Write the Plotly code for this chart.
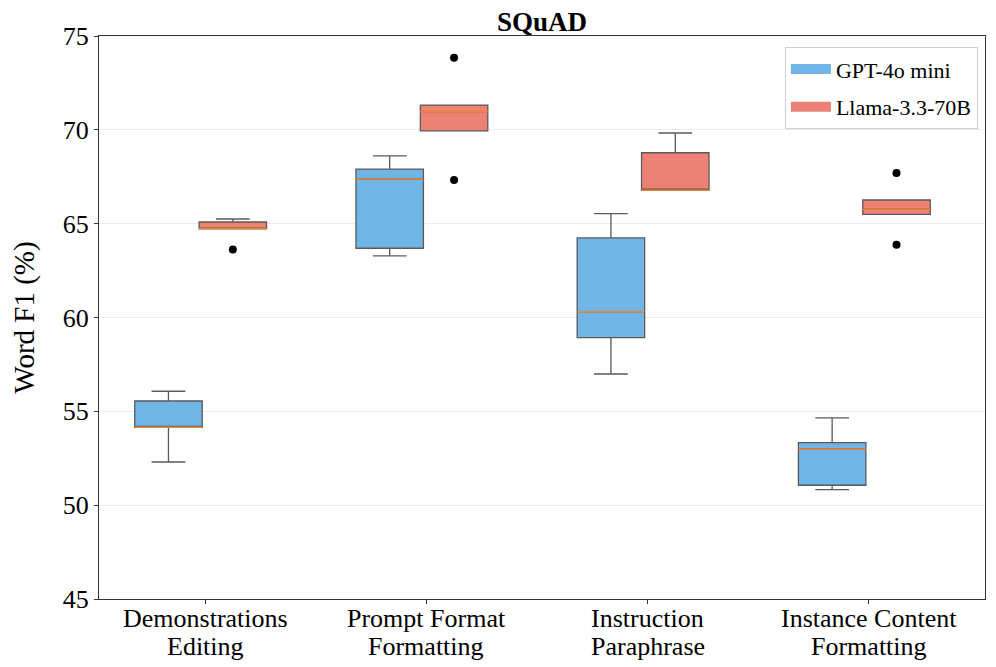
import plotly.graph_objects as go

categories = ["Demonstrations<br>Editing", "Prompt Format<br>Formatting",
              "Instruction<br>Paraphrase", "Instance Content<br>Formatting"]

# GPT-4o mini box statistics
gpt_lower = [52.30, 63.28, 56.99, 50.83]
gpt_q1 = [54.15, 63.69, 58.93, 51.06]
gpt_median = [54.15, 67.38, 60.31, 52.98]
gpt_q3 = [55.55, 67.91, 64.24, 53.33]
gpt_upper = [56.07, 68.61, 65.53, 54.65]

# Llama-3.3-70B box statistics
llama_lower = [64.72, 69.94, 66.78, 65.50]
llama_q1 = [64.72, 69.94, 66.78, 65.50]
llama_median = [64.75, 70.97, 66.78, 65.77]
llama_q3 = [65.09, 71.32, 68.78, 66.26]
llama_upper = [65.25, 71.32, 69.83, 66.26]

# outliers (category index, value)
llama_outlier_cat = [0, 1, 1, 3, 3]
llama_outlier_val = [63.62, 73.84, 67.33, 67.70, 63.88]

GPT_COLOR = "#6fb5e5"
LLAMA_COLOR = "#ee8176"
MEDIAN_COLOR = "#ec8433"
EDGE = "#5a5a5a"

off_gpt = -0.166
off_llama = 0.125
bw = 0.305

idx = list(range(len(categories)))
fig = go.Figure()

def add_boxes(name, color, off, lo, q1, med, q3, up):
    xs = [i + off for i in idx]
    fig.add_trace(go.Box(
        name=name, x=xs, lowerfence=lo, q1=q1, median=med, q3=q3, upperfence=up,
        width=bw, whiskerwidth=0.5, fillcolor=color,
        line=dict(color=EDGE, width=1.3), boxpoints=False, showlegend=False,
    ))
    mx, my = [], []
    for x, m in zip(xs, med):
        mx += [x - bw / 2, x + bw / 2, None]
        my += [m, m, None]
    fig.add_trace(go.Scatter(x=mx, y=my, mode="lines",
                             line=dict(color=MEDIAN_COLOR, width=1.6),
                             showlegend=False, hoverinfo="skip"))
    # legend entry drawn as a filled rectangle
    fig.add_trace(go.Scatter(x=[None], y=[None], mode="lines", name=name,
                             legendgroup=name,
                             line=dict(color=color, width=17)))

add_boxes("GPT-4o mini", GPT_COLOR, off_gpt, gpt_lower, gpt_q1, gpt_median, gpt_q3, gpt_upper)
add_boxes("Llama-3.3-70B", LLAMA_COLOR, off_llama, llama_lower, llama_q1, llama_median, llama_q3, llama_upper)

fig.add_trace(go.Scatter(
    x=[c + off_llama for c in llama_outlier_cat], y=llama_outlier_val,
    mode="markers", marker=dict(color="black", size=8),
    showlegend=False, hoverinfo="skip"))

FONT = "Liberation Serif"

# category labels, one annotation per text line for tighter line spacing
for i, lab in enumerate(categories):
    for k, line in enumerate(lab.split("<br>")):
        fig.add_annotation(x=i, xref="x", y=0, yref="paper", text=line,
                           showarrow=False, xanchor="center", yanchor="middle",
                           yshift=-19 - 28 * k,
                           font=dict(family=FONT, size=26, color="black"))

fig.update_layout(
    width=988, height=659,
    paper_bgcolor="white", plot_bgcolor="white",
    margin=dict(l=91, r=11, t=28, b=68, autoexpand=False),
    boxmode="overlay",
    font=dict(family=FONT, color="black"),
    title=dict(text="<b>SQuAD</b>", x=0.5, xref="paper", xanchor="center",
               y=0.979, yanchor="middle",
               font=dict(family=FONT, size=27, color="black")),
    legend=dict(x=0.992, y=0.980, xanchor="right", yanchor="top",
                bgcolor="white", bordercolor="#d0d0d0", borderwidth=1,
                font=dict(family=FONT, size=22), itemwidth=40,
                tracegroupgap=6),
)
fig.update_xaxes(
    range=[-0.48, 3.525], tickmode="array", tickvals=idx, showticklabels=False,
    showgrid=False, zeroline=False, showline=True, linecolor="#333", linewidth=1.2,
    mirror=True, ticks="outside", ticklen=4, tickcolor="#333", automargin=False,
)
fig.update_yaxes(
    range=[45, 75], dtick=5, automargin=False,
    title=dict(text="Word F1 (%)", font=dict(family=FONT, size=29), standoff=21),
    showgrid=True, gridcolor="#ececec", gridwidth=1, zeroline=False,
    showline=True, linecolor="#333", linewidth=1.2, mirror=True,
    ticks="outside", ticklen=4, tickcolor="#333",
    tickfont=dict(family=FONT, size=26, color="black"),
)

fig.write_html("out.html")
